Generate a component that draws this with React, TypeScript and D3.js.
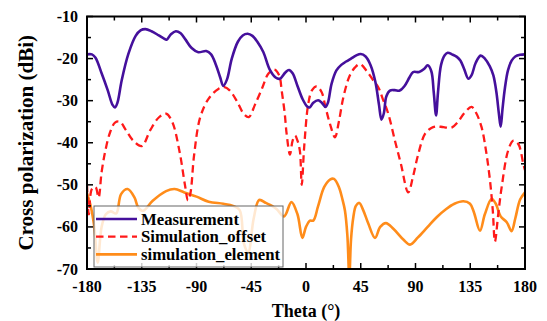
import React from "react";
import * as d3 from "d3";

const measTheta = [-180, -176, -173, -168, -163, -159, -157, -155, -151.5, -146, -140, -136, -132, -127, -121, -117, -114.5, -111, -107, -103, -99, -94, -88.5, -82, -78, -74, -70.5, -68, -65, -61, -56, -52, -48, -44, -40, -35, -30, -25, -21.5, -17, -14, -11, -7, -3, 1, 3, 6, 10, 13, 16, 18, 21, 25, 29, 33, 37, 41, 45, 49, 53, 57, 60, 62, 64, 66, 69, 73, 77, 81, 85, 88, 93, 97, 100, 103, 105, 106.9, 108.5, 111, 114, 116.5, 120, 124, 127, 130, 133.5, 136, 139.5, 143.5, 147, 151, 154, 156.5, 158.5, 160, 161.5, 163.5, 166, 169, 172, 176, 180];
const measValues = [-19, -19, -19.8, -23.5, -27.5, -31, -31.6, -30.5, -25.2, -18.9, -14.6, -13.3, -13, -13.5, -14.5, -15.2, -15.5, -14.2, -13.5, -14, -15.5, -17.5, -18.5, -18.2, -19, -21.5, -24.5, -26.5, -25, -20, -16, -14.5, -14.1, -14.6, -16, -18.5, -22.5, -24.5, -24.8, -23.3, -22.7, -23.5, -26.5, -29.5, -31.4, -31.6, -30.5, -29.9, -30.5, -31.5, -30.5, -26, -22.8, -21.5, -20.7, -20, -19.3, -18.9, -19.5, -21.5, -25.5, -31, -34.5, -33, -29, -27.6, -27.5, -27.6, -26.5, -24.5, -23.2, -23.2, -22.5, -21.6, -23, -28, -33.5, -28, -21.5, -19.2, -18.6, -19, -19.6, -20.5, -22.5, -24.8, -24, -21, -19.3, -20, -21.8, -24, -28, -33, -36.2, -32, -27, -22.8, -20.5, -19.5, -19.1, -19];

const offTheta = [-180, -178.5, -176, -173, -170.5, -168, -165, -161, -157, -153, -148, -142, -135, -128, -121, -115, -110, -104, -99.5, -97, -95, -92, -87, -80, -72, -67, -63, -57, -51, -47, -42, -36, -31, -26, -22, -20, -17.5, -15.9, -13.2, -11, -9, -7, -5, -3.5, -1.5, 1.9, 5, 8.8, 12.9, 16, 19.7, 23.8, 27, 30.7, 36, 40.3, 44.4, 50, 55.3, 59.4, 63, 67.6, 73.1, 78, 84, 88, 92, 97.8, 103, 107.4, 113, 119.7, 125, 130, 136.1, 140, 144.3, 148, 151.2, 153.5, 155.3, 158, 160.8, 166.2, 170.4, 174.5, 178.6, 180];
const offValues = [-50, -57, -51, -50.5, -53, -47, -42, -37.5, -35.2, -35, -37, -39.5, -40.8, -37, -34, -33.1, -35, -42, -50, -53.7, -52, -43, -34, -29.5, -27.2, -26.8, -27.5, -30, -33.2, -33.9, -31, -27, -23.6, -22.6, -24, -27.6, -33, -37.9, -42.8, -39.5, -38.3, -39.5, -42, -50, -41, -30.7, -27.5, -26.6, -28, -31.5, -35.5, -38.7, -35, -29.2, -24, -22.1, -21.3, -23, -25.2, -26.8, -29.5, -33.1, -39.5, -45, -51.8, -48, -43, -37.9, -36.5, -36.1, -36.3, -36.4, -35, -33, -31.5, -33, -36.3, -42, -48.9, -56, -63.5, -57, -50.6, -41.8, -39.5, -40.3, -45, -46.5];

const elemTheta = [-180, -177, -174, -171.2, -168, -164.5, -160.5, -156, -152, -146.6, -141, -138, -134, -126, -115, -108, -100, -90, -80, -68, -60, -54.5, -51, -47.5, -43, -38.5, -33, -28, -24, -18, -12, -7, -3, 0, 3.3, 6, 10, 15, 20, 23, 27, 30, 32, 34, 35.6, 37, 38.9, 41, 43.8, 47, 51.2, 56.7, 61, 65.7, 72, 80, 85.5, 92, 100, 107.4, 115, 122, 129.3, 134.8, 138, 143, 147, 152.6, 156, 160, 165, 169, 172, 176, 180];
const elemValues = [-52, -55, -60, -68.5, -60, -57, -56.3, -56.8, -52.2, -51, -53, -55.3, -56.2, -53.8, -51.5, -51, -51.8, -52.8, -54, -54.5, -55, -56, -64, -66, -58, -53.6, -54.3, -55, -55.8, -57.5, -54.1, -57, -62.6, -60, -58.5, -58.5, -55, -50.5, -48.7, -48.6, -50.5, -53.5, -56.1, -62, -72, -63, -57.7, -55, -54.3, -56, -59.2, -62.6, -60, -59.1, -60.5, -63, -64.2, -62.5, -60, -57.7, -55.8, -54.5, -53.9, -54.5, -56.5, -60.9, -57, -53.3, -54.5, -57.5, -58.9, -61, -58, -53.5, -51.8];

const xTicks = [-180, -135, -90, -45, 0, 45, 90, 135, 180];
const yTicks = [-70, -60, -50, -40, -30, -20, -10];
const seriesNames = ["Measurement", "Simulation_offset", "simulation_element"];
const seriesColors = ["#45109c", "#ff1a1a", "#ff8c1a"];

const W = 547, H = 321;
const L = 87, R = 525, T = 16.5, B = 269;

export default function App() {
  const x = d3.scaleLinear().domain([-180, 180]).range([L, R]);
  const y = d3.scaleLinear().domain([-70, -10]).range([B, T]);
  const line = d3
    .line<[number, number]>()
    .x((d) => x(d[0]))
    .y((d) => y(d[1]))
    .curve(d3.curveCatmullRom.alpha(0.5));

  const series = [
    measTheta.map((t, i) => [t, measValues[i]] as [number, number]),
    offTheta.map((t, i) => [t, offValues[i]] as [number, number]),
    elemTheta.map((t, i) => [t, elemValues[i]] as [number, number]),
  ];
  const dash = [null, "7.5,4.5", null];
  const widths = [2.6, 2.3, 2.6];

  const xMinor = d3.range(-180, 180.1, 22.5);
  const yMinor = d3.range(-70, -9.9, 5);
  const font = "'Liberation Serif', 'Times New Roman', serif";

  const legX = 94, legY = 206, legW = 189, legH = 61;

  return (
    <svg
      width={W}
      height={H}
      style={{ position: "absolute", left: 0, top: 0, background: "#fff" }}
      fontFamily={font}
      fontWeight="bold"
    >
      <defs>
        <clipPath id="plot">
          <rect x={L} y={T} width={R - L} height={B - T} />
        </clipPath>
      </defs>
      <g clipPath="url(#plot)">
        {[2, 1, 0].map((i) => (
          <path
            key={i}
            d={line(series[i]) || ""}
            fill="none"
            stroke={seriesColors[i]}
            strokeWidth={widths[i]}
            strokeDasharray={dash[i] || undefined}
            strokeLinejoin="round"
          />
        ))}
      </g>
      {xMinor.map((t) => {
        const major = xTicks.includes(t);
        const len = major ? 6 : 4;
        return (
          <g key={"xt" + t} stroke="#000" strokeWidth={1.5}>
            <line x1={x(t)} x2={x(t)} y1={B} y2={B - len} />
            <line x1={x(t)} x2={x(t)} y1={T} y2={T + len} />
          </g>
        );
      })}
      {yMinor.map((v) => {
        const major = yTicks.includes(v);
        const len = major ? 6 : 4;
        return (
          <g key={"yt" + v} stroke="#000" strokeWidth={1.5}>
            <line x1={L} x2={L + len} y1={y(v)} y2={y(v)} />
            <line x1={R} x2={R - len} y1={y(v)} y2={y(v)} />
          </g>
        );
      })}
      <rect x={L} y={T} width={R - L} height={B - T} fill="none" stroke="#000" strokeWidth={2} />
      {xTicks.map((t) => (
        <text key={"xl" + t} x={x(t)} y={292} textAnchor="middle" fontSize={16}>
          {t}
        </text>
      ))}
      {yTicks.map((v) => (
        <text key={"yl" + v} x={78} y={y(v) + 5.5} textAnchor="end" fontSize={16}>
          {v}
        </text>
      ))}
      <text x={(L + R) / 2} y={317} textAnchor="middle" fontSize={18}>
        Theta (°)
      </text>
      <text
        transform={`translate(33,${(T + B) / 2}) rotate(-90)`}
        textAnchor="middle"
        fontSize={21}
      >
        Cross polarization (dBi)
      </text>
      <rect x={legX} y={legY} width={legW} height={legH} fill="#fff" fillOpacity={0.8} stroke="#666" strokeWidth={1} />
      {seriesNames.map((n, i) => {
        const cy = 219 + i * 17.7;
        return (
          <g key={n}>
            <line
              x1={96}
              x2={137}
              y1={cy}
              y2={cy}
              stroke={seriesColors[i]}
              strokeWidth={widths[i]}
              strokeDasharray={dash[i] || undefined}
            />
            <text x={141} y={cy + 5.5} fontSize={16.7}>
              {n}
            </text>
          </g>
        );
      })}
    </svg>
  );
}
